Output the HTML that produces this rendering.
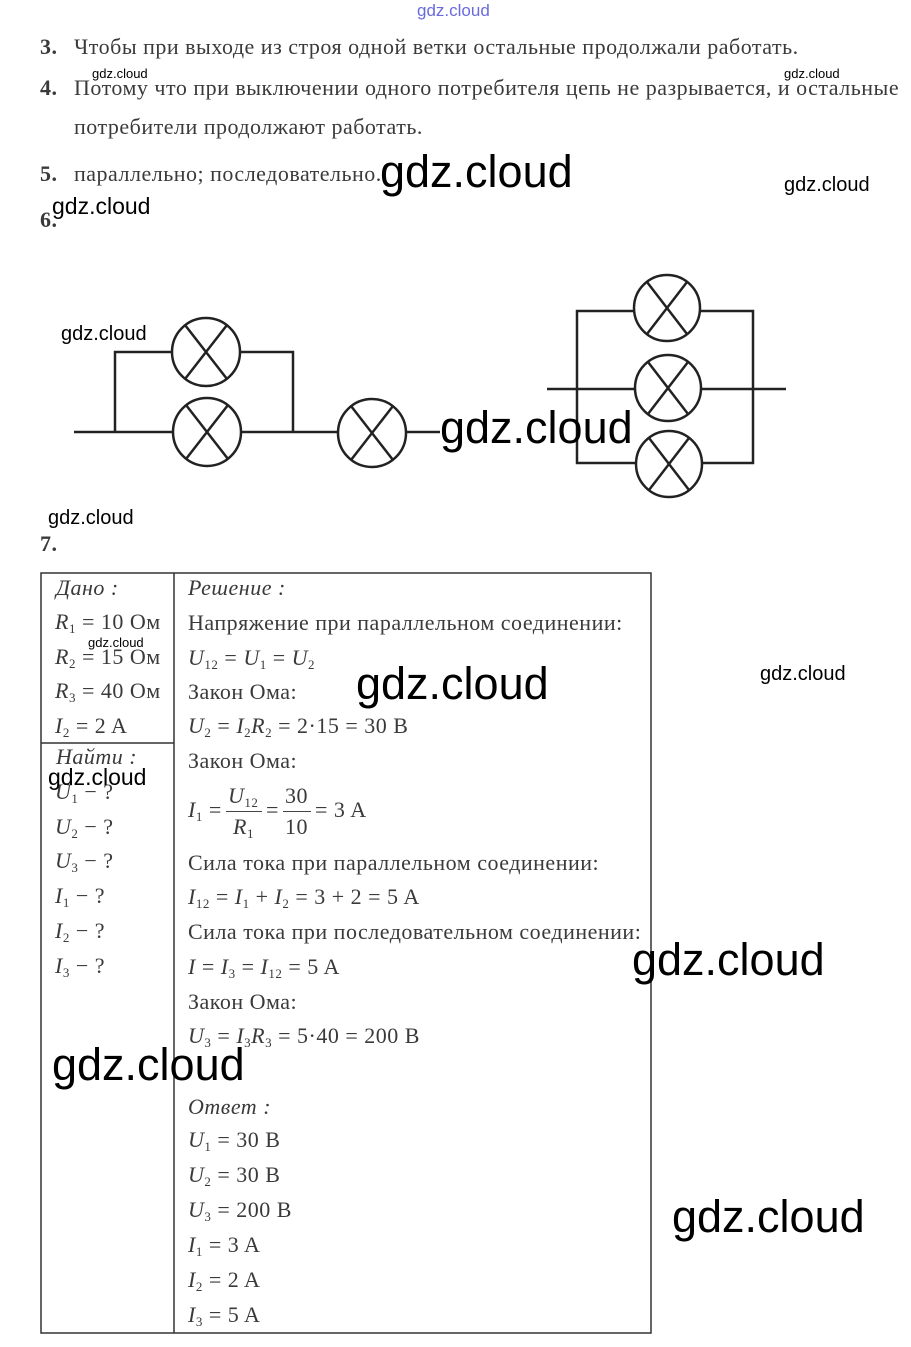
<!DOCTYPE html>
<html><head><meta charset="utf-8"><style>
body{margin:0;background:#fff;width:911px;height:1347px;position:relative;overflow:hidden;font-family:"Liberation Serif","DejaVu Serif",serif;color:#3a3a3a}
.t{position:absolute;font-size:22px;letter-spacing:0.5px;line-height:28px;white-space:nowrap}
.i{font-style:italic}
.w{position:absolute;font-family:"Liberation Sans",sans-serif;color:#000;white-space:nowrap;line-height:1}
.b{font-size:45px}
.s{font-size:20px}
.xs{font-size:13px}
sub{font-size:13px;vertical-align:-4px}
</style></head><body>
<div class="w" style="left:417px;top:2px;font-size:17px;color:#6a6adf">gdz.cloud</div>
<div class="t" style="left:40px;top:33px"><b>3.</b></div><div class="t" style="left:74px;top:33px">Чтобы при выходе из строя одной ветки остальные продолжали работать.</div>
<div class="t" style="left:40px;top:74px"><b>4.</b></div><div class="t" style="left:74px;top:74px">Потому что при выключении одного потребителя цепь не разрывается, и остальные</div>
<div class="t" style="left:74px;top:113px">потребители продолжают работать.</div>
<div class="t" style="left:40px;top:160px"><b>5.</b></div><div class="t" style="left:74px;top:160px">параллельно; последовательно.</div>
<div class="t" style="left:40px;top:206px"><b>6.</b></div>
<div class="w xs" style="left:92px;top:67px">gdz.cloud</div>
<div class="w xs" style="left:784px;top:67px">gdz.cloud</div>
<div class="w b" style="left:380px;top:149px">gdz.cloud</div>
<div class="w s" style="left:784px;top:175px">gdz.cloud</div>
<div class="w" style="left:52px;top:195px;font-size:23px">gdz.cloud</div>

<svg style="position:absolute;left:0;top:0" width="911" height="1347">
<g fill="none" stroke="#222" stroke-width="2.5">
<path d="M74 432H172M241 432H338M406 432H440"/>
<path d="M115 432V352H172M240 352H293V432"/>
<circle cx="206" cy="352" r="34"/><circle cx="207" cy="432" r="34"/><circle cx="372" cy="433" r="34"/>
<path d="M547 389H634M702 389H786"/>
<path d="M577 389V311H634M700 311H753V463H703M635 463H577V389"/>
<circle cx="667" cy="308" r="33"/><circle cx="668" cy="388" r="33"/><circle cx="669" cy="464" r="33"/>
</g>
<g stroke="#222" stroke-width="2.5">
<path d="M185 325L227 379M227 325L185 379"/>
<path d="M186 405L228 459M228 405L186 459"/>
<path d="M351 406L393 460M393 406L351 460"/>
<path d="M647 282L687 334M687 282L647 334"/>
<path d="M648 362L688 414M688 362L648 414"/>
<path d="M649 438L689 490M689 438L649 490"/>
</g>
<g fill="none" stroke="#333" stroke-width="1.5">
<rect x="41" y="573" width="610" height="760"/>
<path d="M174 573V1333M41 743H174"/>
</g>
</svg>
<div class="w s" style="left:61px;top:324px">gdz.cloud</div>
<div class="w b" style="left:440px;top:405px">gdz.cloud</div>
<div class="w s" style="left:48px;top:508px">gdz.cloud</div>
<div class="t" style="left:40px;top:530px"><b>7.</b></div>

<div class="t i" style="left:56px;top:574px">Дано :</div>
<div class="t" style="left:55px;top:608px"><i>R</i><sub>1</sub> = 10 Ом</div>
<div class="t" style="left:55px;top:643px"><i>R</i><sub>2</sub> = 15 Ом</div>
<div class="t" style="left:55px;top:677px"><i>R</i><sub>3</sub> = 40 Ом</div>
<div class="t" style="left:55px;top:712px"><i>I</i><sub>2</sub> = 2 A</div>
<div class="t i" style="left:56px;top:743px">Найти :</div>
<div class="t" style="left:55px;top:778px"><i>U</i><sub>1</sub> − ?</div>
<div class="t" style="left:55px;top:813px"><i>U</i><sub>2</sub> − ?</div>
<div class="t" style="left:55px;top:847px"><i>U</i><sub>3</sub> − ?</div>
<div class="t" style="left:55px;top:882px"><i>I</i><sub>1</sub> − ?</div>
<div class="t" style="left:55px;top:917px"><i>I</i><sub>2</sub> − ?</div>
<div class="t" style="left:55px;top:952px"><i>I</i><sub>3</sub> − ?</div>

<div class="t i" style="left:188px;top:574px">Решение :</div>
<div class="t" style="left:188px;top:609px">Напряжение при параллельном соединении:</div>
<div class="t" style="left:188px;top:644px"><i>U</i><sub>12</sub> = <i>U</i><sub>1</sub> = <i>U</i><sub>2</sub></div>
<div class="t" style="left:188px;top:678px">Закон Ома:</div>
<div class="t" style="left:188px;top:712px"><i>U</i><sub>2</sub> = <i>I</i><sub>2</sub><i>R</i><sub>2</sub> = 2·15 = 30 В</div>
<div class="t" style="left:188px;top:747px">Закон Ома:</div>
<div class="t" style="left:188px;top:796px"><i>I</i><sub>1</sub> =</div>
<div class="t" style="left:228px;top:782px"><i>U</i><sub>12</sub></div>
<div class="t" style="left:233px;top:813px"><i>R</i><sub>1</sub></div>
<div style="position:absolute;left:226px;top:811px;width:36px;height:1px;background:#444"></div>
<div class="t" style="left:266px;top:796px">=</div>
<div class="t" style="left:285px;top:782px">30</div>
<div class="t" style="left:285px;top:813px">10</div>
<div style="position:absolute;left:283px;top:811px;width:28px;height:1px;background:#444"></div>
<div class="t" style="left:315px;top:796px">= 3 A</div>
<div class="t" style="left:188px;top:849px">Сила тока при параллельном соединении:</div>
<div class="t" style="left:188px;top:883px"><i>I</i><sub>12</sub> = <i>I</i><sub>1</sub> + <i>I</i><sub>2</sub> = 3 + 2 = 5 A</div>
<div class="t" style="left:188px;top:918px">Сила тока при последовательном соединении:</div>
<div class="t" style="left:188px;top:953px"><i>I</i> = <i>I</i><sub>3</sub> = <i>I</i><sub>12</sub> = 5 A</div>
<div class="t" style="left:188px;top:988px">Закон Ома:</div>
<div class="t" style="left:188px;top:1022px"><i>U</i><sub>3</sub> = <i>I</i><sub>3</sub><i>R</i><sub>3</sub> = 5·40 = 200 В</div>
<div class="t i" style="left:188px;top:1093px">Ответ :</div>
<div class="t" style="left:188px;top:1126px"><i>U</i><sub>1</sub> = 30 В</div>
<div class="t" style="left:188px;top:1161px"><i>U</i><sub>2</sub> = 30 В</div>
<div class="t" style="left:188px;top:1196px"><i>U</i><sub>3</sub> = 200 В</div>
<div class="t" style="left:188px;top:1231px"><i>I</i><sub>1</sub> = 3 A</div>
<div class="t" style="left:188px;top:1266px"><i>I</i><sub>2</sub> = 2 A</div>
<div class="t" style="left:188px;top:1301px"><i>I</i><sub>3</sub> = 5 A</div>

<div class="w xs" style="left:88px;top:636px">gdz.cloud</div>
<div class="w b" style="left:356px;top:661px">gdz.cloud</div>
<div class="w s" style="left:760px;top:664px">gdz.cloud</div>
<div class="w" style="left:48px;top:766px;font-size:23px">gdz.cloud</div>
<div class="w b" style="left:632px;top:937px">gdz.cloud</div>
<div class="w b" style="left:52px;top:1042px">gdz.cloud</div>
<div class="w b" style="left:672px;top:1194px">gdz.cloud</div>
</body></html>
